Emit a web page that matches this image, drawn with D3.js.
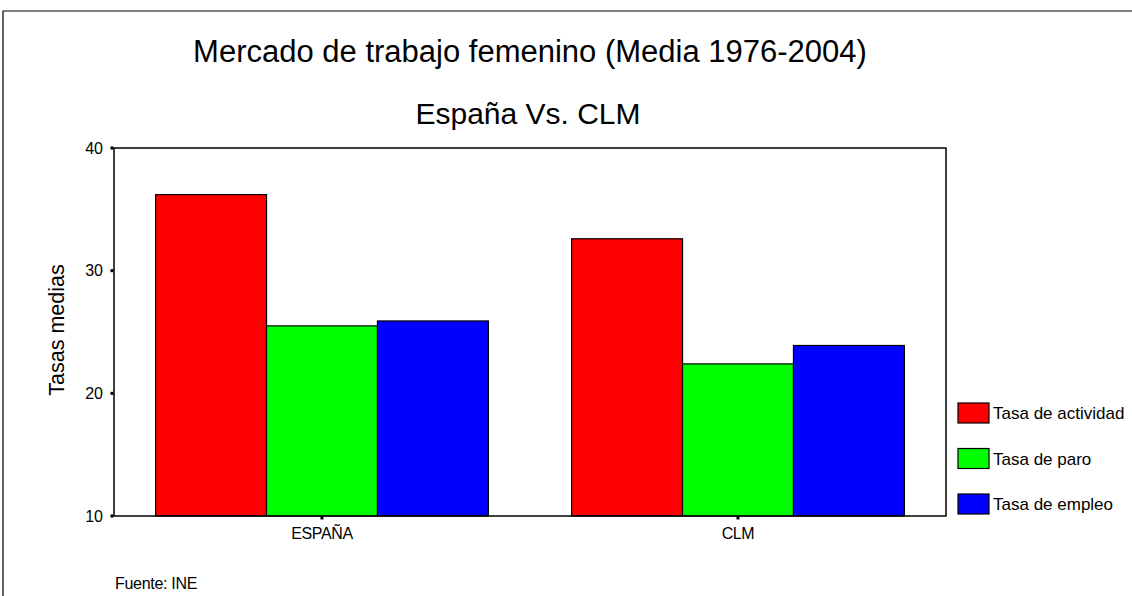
<!DOCTYPE html>
<html><head><meta charset="utf-8">
<script src="https://cdn.jsdelivr.net/npm/d3@7"></script>
<style>body{margin:0;background:#fff}svg{display:block}text{font-family:"Liberation Sans",Arial,sans-serif;fill:#000}</style>
</head><body><svg id="c" width="1132" height="596"></svg>
<script>
const categories = ["ESPAÑA", "CLM"];
const seriesNames = ["Tasa de actividad", "Tasa de paro", "Tasa de empleo"];
const seriesColors = ["#ff0000", "#00ff00", "#0000ff"];
const tasaActividad = [36.2, 32.6];
const tasaParo = [25.5, 22.4];
const tasaEmpleo = [25.9, 23.9];
const yTicks = [10, 20, 30, 40];
const seriesValues = [tasaActividad, tasaParo, tasaEmpleo];

const svg = d3.select("#c");
const L = 114, R = 946, T = 148, B = 516;

// outer frame (top and left)
svg.append("path").attr("d", "M3,596 V11 H1132").attr("fill","none").attr("stroke","#000").attr("stroke-width",1.2);

svg.append("text").attr("x",530).attr("y",62).attr("text-anchor","middle").attr("font-size",31)
  .text("Mercado de trabajo femenino (Media 1976-2004)");
svg.append("text").attr("x",528).attr("y",124).attr("text-anchor","middle").attr("font-size",30)
  .text("España Vs. CLM");

const x0 = d3.scaleBand().domain(categories).range([L, R]).paddingInner(0.2).paddingOuter(0.1);
const x1 = d3.scaleBand().domain(seriesNames).range([0, x0.bandwidth()]);
const y = d3.scaleLinear().domain([10, 40]).range([B, T]);

// bars
categories.forEach((c, ci) => {
  seriesNames.forEach((s, si) => {
    const v = seriesValues[si][ci];
    svg.append("rect")
      .attr("x", x0(c) + x1(s)).attr("y", y(v))
      .attr("width", x1.bandwidth()).attr("height", y(10) - y(v))
      .attr("fill", seriesColors[si]).attr("stroke","#000").attr("stroke-width",1.2);
  });
});

// plot frame
svg.append("rect").attr("x",L).attr("y",T).attr("width",R-L).attr("height",B-T)
  .attr("fill","none").attr("stroke","#000").attr("stroke-width",1.5);

// y axis ticks
const yAxis = svg.append("g");
yTicks.forEach(t => {
  yAxis.append("rect").attr("x", L-3.5).attr("y", y(t)-1.5).attr("width",3).attr("height",3).attr("fill","#000");
  yAxis.append("text").attr("x", L-11).attr("y", y(t)+5.5).attr("text-anchor","end").attr("font-size",16).text(t);
});
// x axis ticks
categories.forEach(c => {
  const cx = x0(c) + x0.bandwidth()/2;
  svg.append("rect").attr("x", cx-1.5).attr("y", B+0.5).attr("width",3).attr("height",3).attr("fill","#000");
  svg.append("text").attr("x", cx).attr("y", B+23).attr("text-anchor","middle").attr("font-size",16).attr("letter-spacing","-0.4").text(c);
});

// y label
svg.append("text").attr("transform","translate(64,330) rotate(-90)").attr("text-anchor","middle").attr("font-size",21.5).text("Tasas medias");

// legend
seriesNames.forEach((s, i) => {
  const ly = 403 + i*45.5;
  svg.append("rect").attr("x",958).attr("y",ly).attr("width",31).attr("height",20)
    .attr("fill",seriesColors[i]).attr("stroke","#000").attr("stroke-width",1.2);
  svg.append("text").attr("x",993).attr("y",ly+16).attr("font-size",17).text(s);
});

svg.append("text").attr("x",115).attr("y",589).attr("font-size",16).attr("letter-spacing","-0.3").text("Fuente: INE");
</script></body></html>
